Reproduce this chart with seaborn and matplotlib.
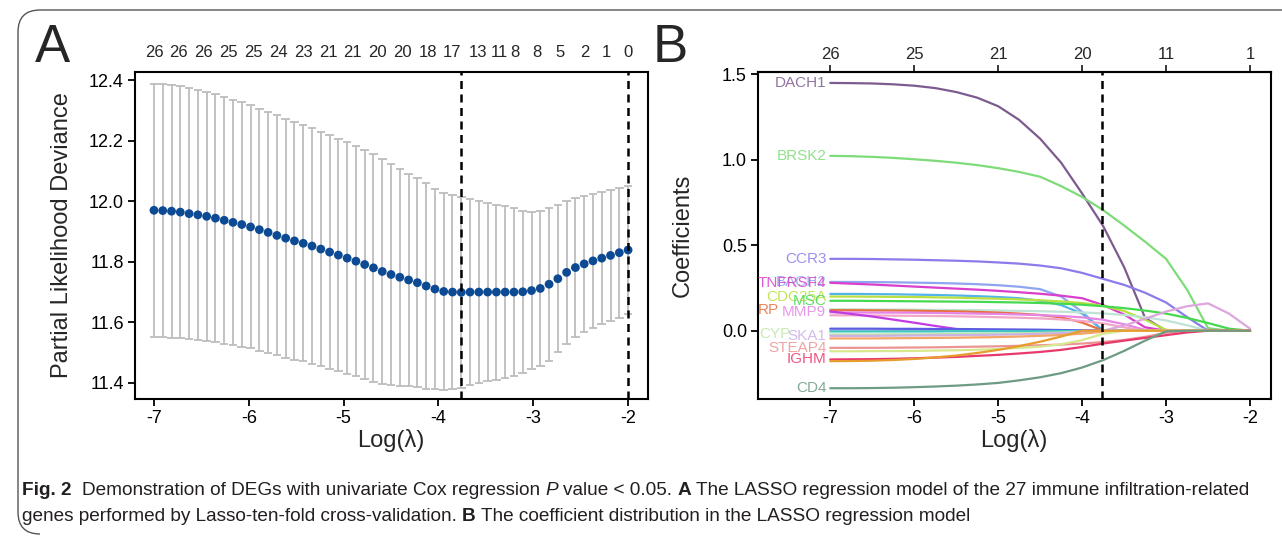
import numpy as np
import pandas as pd
import matplotlib
matplotlib.use("Agg")
import matplotlib.pyplot as plt
import seaborn as sns
from matplotlib import font_manager
from matplotlib.path import Path
from matplotlib.patches import PathPatch
from matplotlib.ticker import FormatStrFormatter
from matplotlib.transforms import blended_transform_factory

# --- DATA ---
# panel A: cross-validated partial likelihood deviance (55 lambdas, log scale)
LOG_LAMBDA_A = np.linspace(-7.0, -2.0, 55)
CV_MEAN = [11.970, 11.969, 11.967, 11.964, 11.959, 11.955, 11.950, 11.944, 11.937, 11.930,
           11.923, 11.915, 11.906, 11.897, 11.887, 11.878, 11.869, 11.861, 11.852, 11.842,
           11.832, 11.822, 11.812, 11.802, 11.791, 11.780, 11.768, 11.758, 11.749, 11.740,
           11.731, 11.720, 11.710, 11.702, 11.700, 11.699, 11.700, 11.700, 11.700, 11.700,
           11.700, 11.700, 11.701, 11.705, 11.712, 11.726, 11.744, 11.765, 11.781, 11.793,
           11.803, 11.812, 11.821, 11.830, 11.839]
CV_SD = [0.418, 0.418, 0.417, 0.416, 0.415, 0.413, 0.411, 0.410, 0.408, 0.405,
         0.403, 0.401, 0.400, 0.398, 0.396, 0.394, 0.392, 0.390, 0.388, 0.386,
         0.385, 0.383, 0.382, 0.380, 0.378, 0.376, 0.371, 0.365, 0.358, 0.351,
         0.346, 0.340, 0.331, 0.324, 0.319, 0.315, 0.307, 0.301, 0.295, 0.289,
         0.283, 0.276, 0.268, 0.260, 0.256, 0.252, 0.243, 0.237, 0.230, 0.224,
         0.220, 0.218, 0.216, 0.215, 0.211]
NZERO_POS = [-7.000, -6.738, -6.475, -6.213, -5.951, -5.689, -5.426, -5.164, -4.902, -4.639,
             -4.377, -4.115, -3.852, -3.580, -3.360, -3.190, -2.960, -2.720, -2.460, -2.230, -2.000]
NZERO_LABELS = [26, 26, 26, 25, 25, 24, 23, 21, 21, 20, 20, 18, 17, 13, 11, 8, 8, 5, 2, 1, 0]
LAMBDA_MIN_IDX = 35
LAMBDA_1SE_IDX = 54

# panel B: coefficient paths
LOG_LAMBDA_B = [-7, -6.75, -6.5, -6.25, -6, -5.75, -5.5, -5.25, -5, -4.75, -4.5,
                -4.25, -4, -3.75, -3.5, -3.25, -3, -2.75, -2.5, -2.25, -2]
B_TOP_TICKS = [-7, -6, -5, -4, -3, -2]
B_TOP_LABELS = ["26", "25", "21", "20", "11", "1"]
GENE_LABELS = ["DACH1", "BRSK2", "CCR3", "BACH2", "TNFRSF4", "", "CDC25A", "MSC", "", "RP",
               "MMP9", "", "", "", "", "", "CYP", "SKA1", "", "STEAP4", "", "IGHM", "", "CD4"]
GENE_COLORS = ["#7d5b8e", "#7ddc78", "#8c7bea", "#8fa5f0", "#d93fcb", "#52b4ea", "#b8e040",
               "#45d950", "#bfe3d5", "#e8703e", "#e586e6", "#f3a5c8", "#c03ce2", "#dda6dc",
               "#5b5be3", "#3cc9c4", "#bde6a8", "#cbb0e6", "#f2a66a", "#ec9494", "#d8e88e",
               "#e8386c", "#e79c2e", "#6e9b84"]
COEF_PATHS = [
    [1.448, 1.447, 1.445, 1.440, 1.432, 1.418, 1.395, 1.362, 1.312, 1.232, 1.122, 0.982, 0.802, 0.612, 0.372, 0.075, 0, 0, 0, 0, 0],
    [1.022, 1.020, 1.016, 1.010, 1.002, 0.993, 0.982, 0.968, 0.950, 0.928, 0.900, 0.845, 0.782, 0.705, 0.615, 0.520, 0.420, 0.240, 0.015, 0, 0],
    [0.420, 0.420, 0.419, 0.417, 0.415, 0.412, 0.409, 0.405, 0.399, 0.392, 0.381, 0.365, 0.338, 0.303, 0.268, 0.222, 0.165, 0.080, 0, 0, 0],
    [0.285, 0.285, 0.284, 0.283, 0.281, 0.279, 0.276, 0.272, 0.266, 0.257, 0.243, 0.200, 0.110, 0, 0, 0, 0, 0, 0, 0, 0],
    [0.280, 0.275, 0.270, 0.264, 0.258, 0.252, 0.246, 0.240, 0.233, 0.225, 0.216, 0.205, 0.190, 0.150, 0.095, 0.020, 0, 0, 0, 0, 0],
    [0.215, 0.215, 0.214, 0.213, 0.211, 0.209, 0.206, 0.202, 0.197, 0.190, 0.175, 0.150, 0.100, 0, 0, 0, 0, 0, 0, 0, 0],
    [0.200, 0.200, 0.199, 0.198, 0.197, 0.195, 0.193, 0.190, 0.187, 0.183, 0.178, 0.171, 0.162, 0.146, 0.115, 0.065, 0.005, 0, 0, 0, 0],
    [0.175, 0.175, 0.174, 0.173, 0.172, 0.171, 0.170, 0.169, 0.167, 0.165, 0.162, 0.158, 0.152, 0.143, 0.132, 0.118, 0.100, 0.075, 0.045, 0.012, 0],
    [0.125, 0.125, 0.124, 0.124, 0.123, 0.122, 0.121, 0.120, 0.118, 0.116, 0.114, 0.111, 0.107, 0.101, 0.092, 0.079, 0.060, 0.032, 0, 0, 0],
    [0.120, 0.120, 0.119, 0.118, 0.117, 0.115, 0.113, 0.110, 0.106, 0.100, 0.092, 0.078, 0.048, 0, 0, 0, 0, 0, 0, 0, 0],
    [0.107, 0.107, 0.106, 0.106, 0.105, 0.104, 0.102, 0.100, 0.098, 0.095, 0.091, 0.086, 0.078, 0.064, 0.038, 0.005, 0, 0, 0, 0, 0],
    [0.090, 0.090, 0.089, 0.088, 0.087, 0.086, 0.084, 0.082, 0.079, 0.076, 0.072, 0.066, 0.057, 0.043, 0.020, 0, 0, 0, 0, 0, 0],
    [0.113, 0.098, 0.083, 0.065, 0.047, 0.028, 0.010, 0, 0, 0, 0, 0, 0, 0, 0, 0, 0, 0, 0, 0, 0],
    [0, 0, 0, 0, 0, 0, 0, 0, 0, 0, 0, 0, 0, 0, 0.030, 0.070, 0.112, 0.143, 0.160, 0.100, 0.012],
    [0.012, 0.012, 0.012, 0.011, 0.011, 0.010, 0.010, 0.009, 0.008, 0.007, 0.006, 0.004, 0.002, 0, 0, 0, 0, 0, 0, 0, 0],
    [-0.004, -0.004, -0.004, -0.004, -0.004, -0.004, -0.003, -0.003, -0.003, -0.003, -0.003, -0.002, -0.002, -0.001, 0, 0, 0, 0, 0, 0, 0],
    [-0.022, -0.022, -0.022, -0.021, -0.021, -0.020, -0.019, -0.018, -0.017, -0.015, -0.013, -0.010, -0.006, 0, 0, 0, 0, 0, 0, 0, 0],
    [-0.030, -0.030, -0.030, -0.029, -0.028, -0.027, -0.026, -0.025, -0.023, -0.021, -0.018, -0.014, -0.008, 0, 0, 0, 0, 0, 0, 0, 0],
    [-0.045, -0.045, -0.045, -0.044, -0.043, -0.042, -0.041, -0.039, -0.037, -0.034, -0.030, -0.025, -0.017, -0.006, 0, 0, 0, 0, 0, 0, 0],
    [-0.100, -0.100, -0.100, -0.099, -0.098, -0.097, -0.095, -0.093, -0.091, -0.088, -0.085, -0.081, -0.075, -0.066, -0.054, -0.036, -0.012, 0, 0, 0, 0],
    [-0.120, -0.120, -0.119, -0.119, -0.118, -0.116, -0.114, -0.111, -0.107, -0.101, -0.093, -0.079, -0.055, -0.018, 0, 0, 0, 0, 0, 0, 0],
    [-0.168, -0.167, -0.166, -0.164, -0.161, -0.157, -0.153, -0.147, -0.141, -0.133, -0.124, -0.112, -0.095, -0.075, -0.058, -0.042, -0.026, -0.010, 0, 0, 0],
    [-0.178, -0.177, -0.175, -0.171, -0.165, -0.156, -0.145, -0.130, -0.112, -0.090, -0.064, -0.034, 0, 0, 0, 0, 0, 0, 0, 0, 0],
    [-0.336, -0.336, -0.335, -0.333, -0.330, -0.326, -0.321, -0.314, -0.305, -0.290, -0.272, -0.248, -0.215, -0.172, -0.118, -0.058, -0.004, 0, 0, 0, 0],
]

CAPTION_1 = [("Fig. 2", "bold", "normal"), ("  ", None, None),
             ("Demonstration of DEGs with univariate Cox regression", "normal", "normal"), (" ", None, None),
             ("P", "normal", "italic"), (" ", None, None),
             ("value < 0.05.", "normal", "normal"), (" ", None, None),
             ("A", "bold", "normal"), (" ", None, None),
             ("The LASSO regression model of the 27 immune infiltration-related", "normal", "normal")]
CAPTION_2 = [("genes performed by Lasso-ten-fold cross-validation.", "normal", "normal"), (" ", None, None),
             ("B", "bold", "normal"), (" ", None, None),
             ("The coefficient distribution in the LASSO regression model", "normal", "normal")]

# --- STYLE ---
W, H = 1282, 536
sns.set_style("ticks")
plt.rcParams["font.family"] = ["Liberation Sans", "DejaVu Sans"]
plt.rcParams["axes.unicode_minus"] = False
names = {f.name for f in font_manager.fontManager.ttflist}
CAP_FONT = ["Liberation Sans Narrow", "Liberation Sans"] if "Liberation Sans Narrow" in names else ["Liberation Sans"]
LABEL_SHIFT = {"CYP": 40, "RP": 51}

fig = plt.figure(figsize=(W / 100, H / 100), dpi=100)
fig.patch.set_facecolor("white")


def px_axes(left, top, right, bottom):
    return fig.add_axes([left / W, 1 - bottom / H, (right - left) / W, (bottom - top) / H])


def style_axes(ax):
    for s in ax.spines.values():
        s.set_visible(True)
        s.set_linewidth(1.5)
        s.set_color("black")
    ax.tick_params(direction="out", length=5, width=1.3, labelsize=13, colors="black", pad=3)
    ax.grid(False)


# --- PANEL A ---
ax_a = px_axes(135, 72, 648, 399)
style_axes(ax_a)
cv_mean = np.array(CV_MEAN)
cv_sd = np.array(CV_SD)
upper, lower = cv_mean + cv_sd, cv_mean - cv_sd
cap = 0.045
ax_a.vlines(LOG_LAMBDA_A, lower, upper, color="#bdbdbd", lw=1.3, zorder=1)
ax_a.hlines(upper, LOG_LAMBDA_A - cap, LOG_LAMBDA_A + cap, color="#bdbdbd", lw=1.3, zorder=1)
ax_a.hlines(lower, LOG_LAMBDA_A - cap, LOG_LAMBDA_A + cap, color="#bdbdbd", lw=1.3, zorder=1)
sns.scatterplot(x=LOG_LAMBDA_A, y=cv_mean, ax=ax_a, color="#0c4a94", s=40,
                edgecolor="none", zorder=3, legend=False)
for idx in (LAMBDA_MIN_IDX, LAMBDA_1SE_IDX):
    ax_a.axvline(LOG_LAMBDA_A[idx], color="black", lw=1.8, ls=(0, (3.2, 2.2)), zorder=4)
ax_a.set_xlim(-7.2, -1.79)
ax_a.set_ylim(11.347, 12.4265)
ax_a.set_xticks([-7, -6, -5, -4, -3, -2])
ax_a.set_yticks([11.4, 11.6, 11.8, 12.0, 12.2, 12.4])
ax_a.yaxis.set_major_formatter(FormatStrFormatter("%.1f"))
ax_a.set_xlabel("")
ax_a.set_ylabel("")
trans_a = blended_transform_factory(ax_a.transData, ax_a.transAxes)
for pos, lab in zip(NZERO_POS, NZERO_LABELS):
    ax_a.text(pos, 1 + 20 / 327, str(lab), transform=trans_a, ha="center",
              va="center", fontsize=12, clip_on=False)

# --- PANEL B ---
ax_b = px_axes(758, 72, 1271, 399)
style_axes(ax_b)
rows = []
for g, path in enumerate(COEF_PATHS):
    assert len(path) == len(LOG_LAMBDA_B)
    for lam, c in zip(LOG_LAMBDA_B, path):
        rows.append({"gene": g, "loglam": lam, "coef": c})
df_b = pd.DataFrame(rows)
palette = {g: col for g, col in enumerate(GENE_COLORS)}
sns.lineplot(data=df_b, x="loglam", y="coef", hue="gene", palette=palette, estimator=None,
             sort=False, legend=False, ax=ax_b, linewidth=1.6, errorbar=None)
ax_b.axvline(LOG_LAMBDA_A[LAMBDA_MIN_IDX], color="black", lw=1.8, ls=(0, (3.2, 2.2)), zorder=5)
for name, col, path in zip(GENE_LABELS, GENE_COLORS, COEF_PATHS):
    if not name:
        continue
    ax_b.annotate(name, xy=(LOG_LAMBDA_B[0], path[0]), xytext=(-LABEL_SHIFT.get(name, 4), 0),
                  textcoords="offset pixels", ha="right", va="center", fontsize=11,
                  color=col, alpha=0.85, annotation_clip=False)
ax_b.set_xlim(-7.861, -1.75)
ax_b.set_ylim(-0.399, 1.512)
ax_b.set_xticks([-7, -6, -5, -4, -3, -2])
ax_b.set_yticks([0.0, 0.5, 1.0, 1.5])
ax_b.yaxis.set_major_formatter(FormatStrFormatter("%.1f"))
ax_b.set_xlabel("")
ax_b.set_ylabel("")
sec = ax_b.secondary_xaxis("top")
sec.set_xticks(B_TOP_TICKS, labels=B_TOP_LABELS)
sec.tick_params(direction="out", length=5, width=1.3, labelsize=12, pad=2)
sec.spines["top"].set_linewidth(1.5)

# --- LABELS ---
def ftext(x, y, s, **kw):
    return fig.text(x / W, 1 - y / H, s, **kw)


ftext(62, 235, "Partial Likelihood Deviance", rotation=90, ha="center", va="center", fontsize=17)
ftext(683, 235, "Coefficients", rotation=90, ha="center", va="center", fontsize=17)
ftext(391, 440, "Log(λ)", ha="center", va="center", fontsize=17)
ftext(1014, 440, "Log(λ)", ha="center", va="center", fontsize=17)
ftext(35, 62, "A", ha="left", va="baseline", fontsize=38)
ftext(653, 62, "B", ha="left", va="baseline", fontsize=38)

# outer frame with rounded left corners
verts = [(W, 10), (40, 10), (18, 10), (18, 32), (18, 512), (18, 534), (40, 534)]
codes = [Path.MOVETO, Path.LINETO, Path.CURVE3, Path.CURVE3, Path.LINETO, Path.CURVE3, Path.CURVE3]
frame = Path([(x / W, 1 - y / H) for x, y in verts], codes)
fig.patches.append(PathPatch(frame, transform=fig.transFigure, fill=False, lw=1.0, edgecolor="#555555"))

# --- CAPTION ---
renderer = fig.canvas.get_renderer()
CAP_COLOR = "#231f20"


def space_width(size):
    a = fig.text(0, 0, "a a", fontsize=size, family=CAP_FONT)
    b = fig.text(0, 0, "aa", fontsize=size, family=CAP_FONT)
    w = a.get_window_extent(renderer).width - b.get_window_extent(renderer).width
    a.remove()
    b.remove()
    return w


def rich_line(x0, y0, parts, size):
    sw = space_width(size)
    x = x0
    made = []
    for txt, weight, style in parts:
        if weight is None:
            x += sw * len(txt)
            continue
        t = ftext(x, y0, txt, fontsize=size, fontweight=weight, fontstyle=style,
                  family=CAP_FONT, ha="left", va="baseline", color=CAP_COLOR)
        x += t.get_window_extent(renderer).width
        made.append(t)
    return x - x0, made


w0, tmp = rich_line(22, 495, CAPTION_1, 12)
for t in tmp:
    t.remove()
cap_size = 12 * (1233 / w0)
rich_line(22, 495, CAPTION_1, cap_size)
rich_line(22, 521, CAPTION_2, cap_size)

fig.savefig("out.png", dpi=100, facecolor="white")
